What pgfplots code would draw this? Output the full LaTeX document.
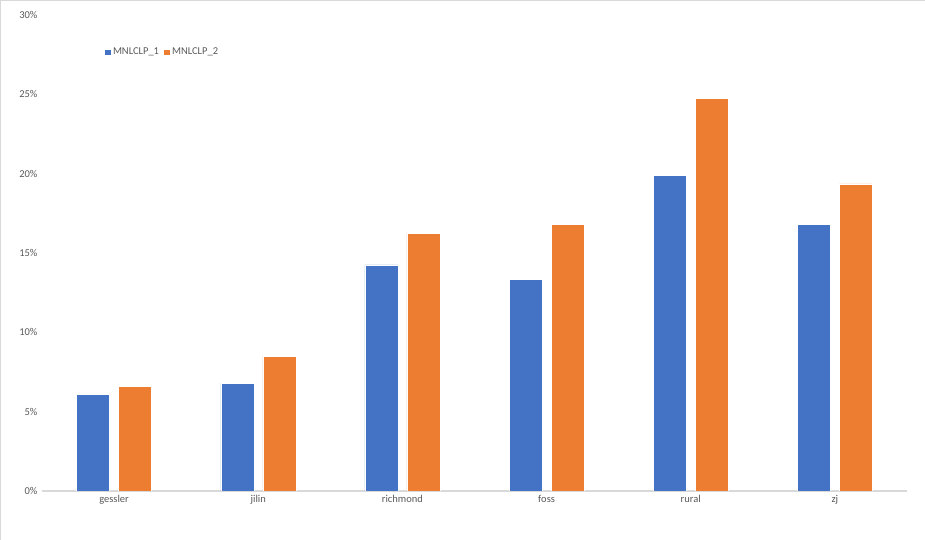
\documentclass[border=0pt]{standalone}
\usepackage{pgfplots}
\pgfplotsset{compat=1.18}
\usepackage{fontspec}
\setmainfont{Carlito}
\definecolor{barblue}{HTML}{4472C4}
\definecolor{barorange}{HTML}{ED7D31}
\definecolor{txtgray}{HTML}{595959}
\definecolor{linegray}{HTML}{D9D9D9}
\begin{document}
\begin{tikzpicture}
\begin{axis}[
    at={(42pt,49pt)}, anchor=south west,
    scale only axis,
    width=865pt, height=476pt,
    ybar=9pt, bar width=33pt,
    xmin=-0.5, xmax=5.5,
    ymin=0, ymax=30,
    xtick=data,
    xticklabels={gessler,jilin,richmond,foss,rural,zj},
    ytick={0,5,10,15,20,25,30},
    yticklabel={\pgfmathprintnumber{\tick}\%},
    axis y line*=left,
    y axis line style={draw=none},
    axis x line*=bottom,
    x axis line style={linegray, line width=1.2pt, -},
    major tick length=0pt,
    tick style={draw=none},
    every tick label/.append style={font=\fontsize{10.5}{12}\selectfont, text=txtgray},
    xticklabel style={yshift=-1pt},
    yticklabel style={xshift=-1pt},
    /pgf/number format/assume math mode=true,
    legend columns=2,
    legend style={at={(0.068,0.922)}, anchor=west, draw=none, fill=none,
        font=\fontsize{10.5}{12}\selectfont, text=txtgray,
        /tikz/every even column/.append style={column sep=2pt}},
    legend image code/.code={\fill[#1] (0pt,-3.3pt) rectangle (6.6pt,3.3pt);},
]
\addplot[fill=barblue, draw=white, line width=0.4pt] coordinates {
    (0,6.1) (1,6.8) (2,14.25) (3,13.35) (4,19.9) (5,16.8)};
\addplot[fill=barorange, draw=white, line width=0.4pt] coordinates {
    (0,6.6) (1,8.5) (2,16.25) (3,16.8) (4,24.75) (5,19.35)};
\legend{MNLCLP\_1, MNLCLP\_2}
\end{axis}
\pgfresetboundingbox
\path[use as bounding box] (0pt,0pt) rectangle (925pt,540pt);
\draw[linegray, line width=1.2pt] (0.6pt,0pt) -- (0.6pt,539.4pt) -- (925pt,539.4pt);
\end{tikzpicture}
\end{document}
